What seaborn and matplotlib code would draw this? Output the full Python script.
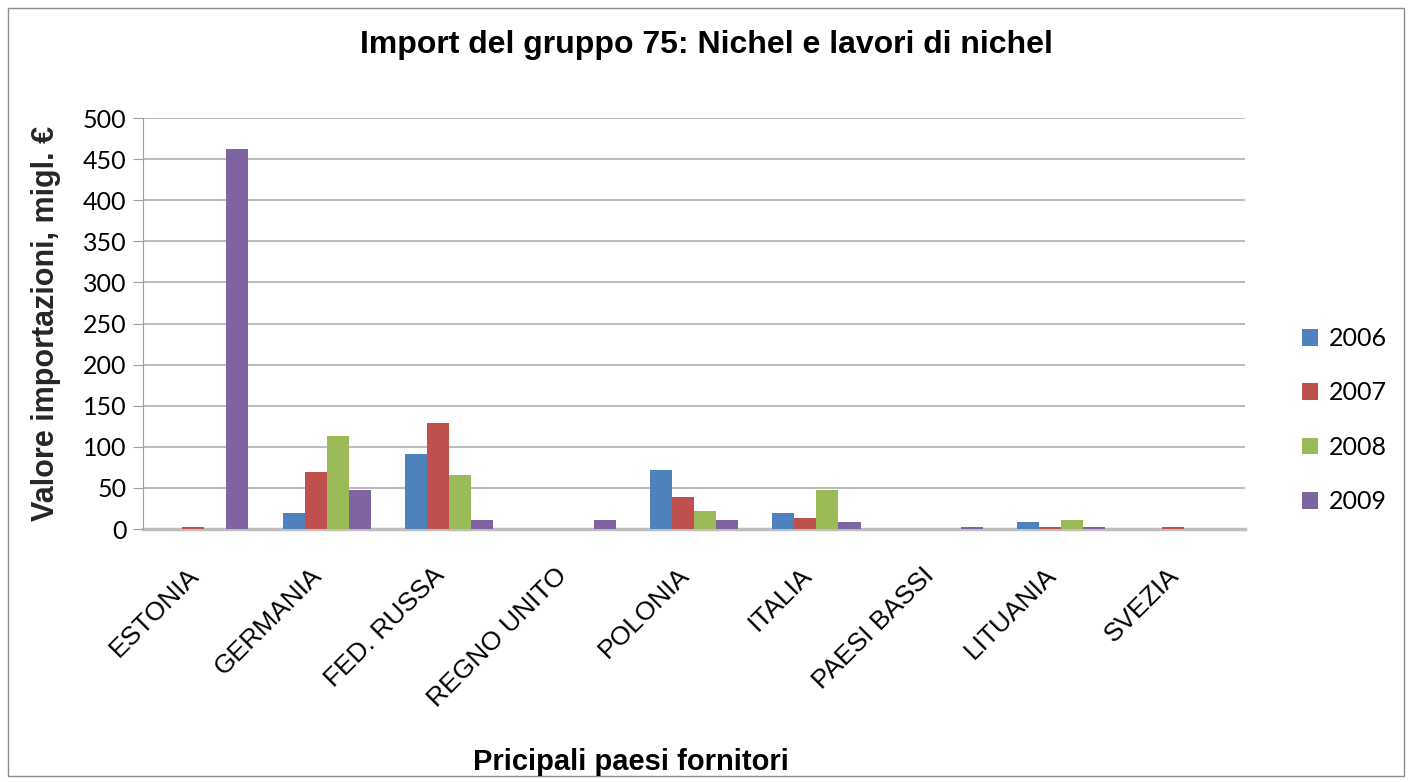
import pandas as pd
import seaborn as sns
import matplotlib.pyplot as plt
from matplotlib.patches import Rectangle
from matplotlib.transforms import ScaledTranslation

countries = ['ESTONIA', 'GERMANIA', 'FED. RUSSA', 'REGNO UNITO', 'POLONIA',
             'ITALIA', 'PAESI BASSI', 'LITUANIA', 'SVEZIA']
years = ['2006', '2007', '2008', '2009']
v2006 = [0, 20, 91, 0, 72, 20, 0, 8, 0]
v2007 = [2, 69, 129, 0, 39, 13, 0, 2, 2]
v2008 = [0, 113, 66, 0, 22, 47, 0, 11, 0]
v2009 = [462, 47, 11, 11, 11, 8, 2, 2, 0]
colors = ['#4F81BD', '#C0504D', '#9BBB59', '#8064A2']

rows = []
for yr, vals in zip(years, [v2006, v2007, v2008, v2009]):
    for c, v in zip(countries, vals):
        rows.append({'paese': c, 'anno': yr, 'valore': v})
df = pd.DataFrame(rows)

sns.set_style('white')
plt.rcParams['font.family'] = ['Lato', 'DejaVu Sans']
plt.rcParams['text.color'] = 'black'
plt.rcParams['xtick.color'] = 'black'
plt.rcParams['ytick.color'] = 'black'

fig = plt.figure(figsize=(14.12, 7.82), dpi=100)
ax = fig.add_axes([0.1013, 0.3235, 0.7804, 0.5255])

sns.barplot(data=df, x='paese', y='valore', hue='anno', palette=colors,
            width=0.72, saturation=1, linewidth=0, ax=ax,
            order=countries, hue_order=years)

ax.set_ylim(0, 500)
ax.set_yticks(range(0, 501, 50))
ax.yaxis.grid(True, color='#B0B0B0', linewidth=1.2)
ax.set_axisbelow(True)
for s in ['top', 'right']:
    ax.spines[s].set_visible(False)
ax.spines['left'].set_color('#A0A0A0')
ax.spines['bottom'].set_color('#BEBEBE')
ax.spines['bottom'].set_linewidth(2.5)
ax.spines['bottom'].set_zorder(0.9)
ax.tick_params(axis='y', labelsize=18, left=True, length=7, color='#A0A0A0',
               labelcolor='black', pad=5)
ax.tick_params(axis='x', bottom=False, pad=21)
offset = ScaledTranslation(-17 / 100, 0, fig.dpi_scale_trans)
for lab in ax.get_xticklabels():
    lab.set_rotation(45)
    lab.set_ha('right')
    lab.set_va('top')
    lab.set_rotation_mode('anchor')
    lab.set_family('Liberation Sans')
    lab.set_fontsize(19)
    lab.set_color('black')
    lab.set_transform(lab.get_transform() + offset)

ax.set_ylabel('Valore importazioni, migl. €', fontsize=22, fontweight='bold',
              family='Liberation Sans', labelpad=16)
ax.set_xlabel('')
fig.text(0.447, 0.026, 'Pricipali paesi fornitori', fontsize=21, fontweight='bold',
         family='Liberation Sans', ha='center', va='center')
fig.text(0.5, 0.942, 'Import del gruppo 75: Nichel e lavori di nichel', fontsize=23,
         fontweight='bold', family='Liberation Sans', ha='center', va='center')

ax.legend(loc='center left', bbox_to_anchor=(1.031, 0.265), frameon=False,
          fontsize=18, handlelength=0.65, handleheight=0.65, labelspacing=1.25,
          handletextpad=0.45)

fig.patches.append(Rectangle((0.006, 0.008), 0.988, 0.982, transform=fig.transFigure,
                             fill=False, edgecolor='#8C8C8C', linewidth=1))

fig.savefig('out.png', dpi=100)
